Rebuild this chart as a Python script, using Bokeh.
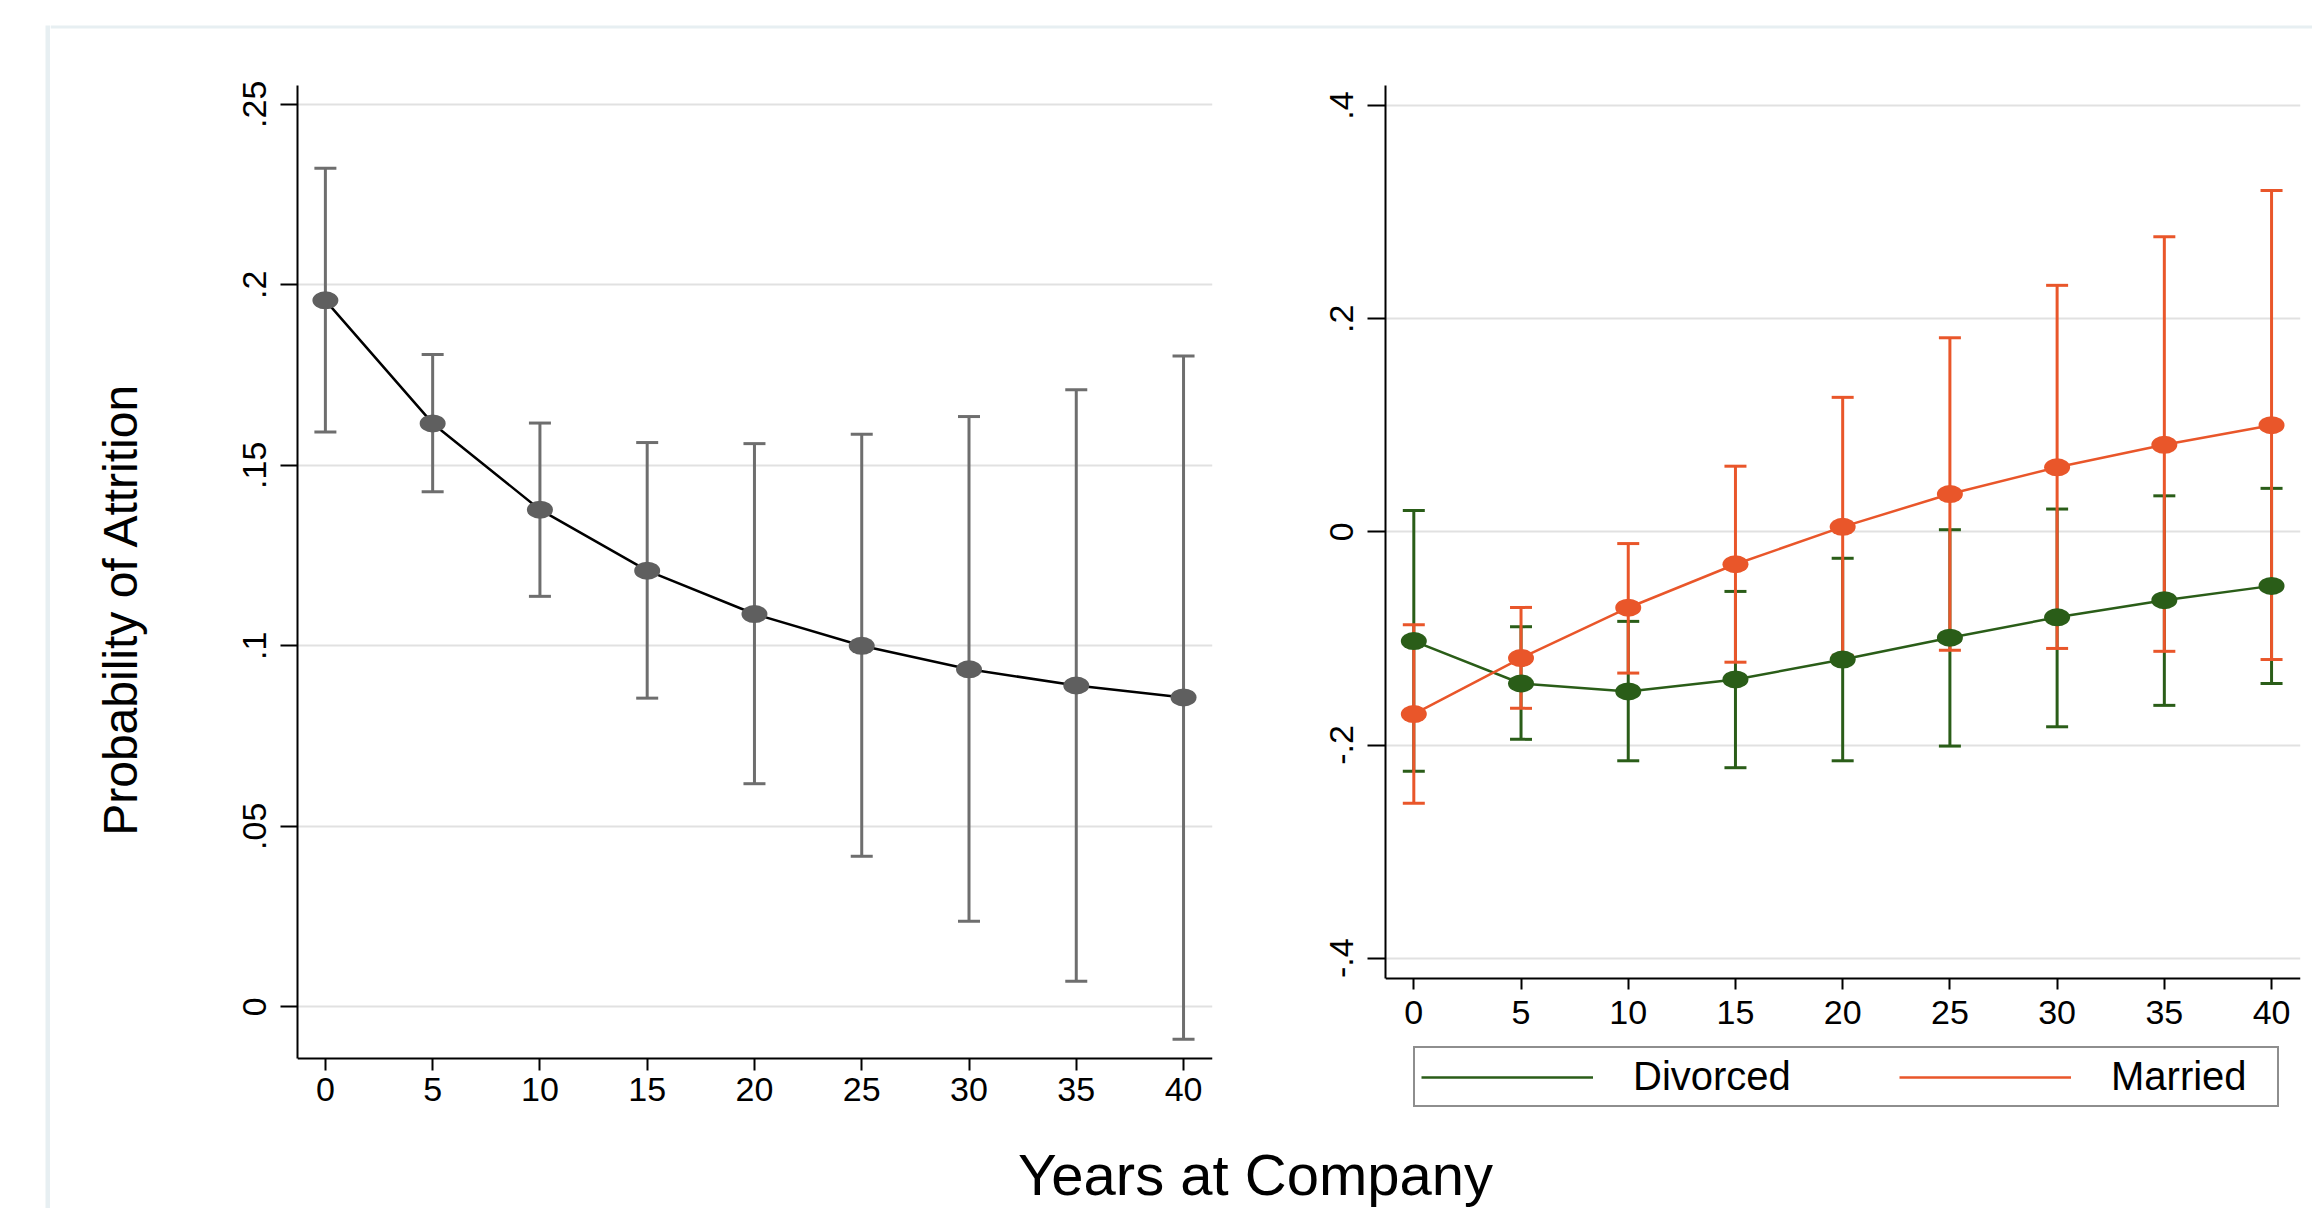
from bokeh.plotting import figure
from bokeh.models import (Range1d, FixedTicker, Whisker, TeeHead, ColumnDataSource,
                          Legend, LegendItem, BoxAnnotation, Label)
from bokeh.layouts import row, column
from bokeh.embed import file_html
from bokeh.resources import INLINE

# ---------------- data ----------------
years = [0, 5, 10, 15, 20, 25, 30, 35, 40]

overall_prob = [0.1957, 0.1616, 0.1377, 0.1208, 0.1088, 0.1000, 0.0935, 0.0890, 0.0857]
overall_lo = [0.1592, 0.1427, 0.1137, 0.0855, 0.0618, 0.0417, 0.0237, 0.0071, -0.0090]
overall_hi = [0.2323, 0.1807, 0.1617, 0.1563, 0.1560, 0.1586, 0.1635, 0.1709, 0.1803]

divorced_eff = [-0.1025, -0.1423, -0.1497, -0.1385, -0.1198, -0.0993, -0.0802, -0.0641, -0.0507]
divorced_lo = [-0.2247, -0.1947, -0.2148, -0.2213, -0.2148, -0.2010, -0.1829, -0.1628, -0.1423]
divorced_hi = [0.0200, -0.0890, -0.0840, -0.0559, -0.0248, 0.0020, 0.0214, 0.0338, 0.0408]

married_eff = [-0.1710, -0.1184, -0.0712, -0.0304, 0.0047, 0.0355, 0.0606, 0.0817, 0.1001]
married_lo = [-0.2547, -0.1656, -0.1325, -0.1223, -0.1160, -0.1111, -0.1094, -0.1121, -0.1198]
married_hi = [-0.0871, -0.0709, -0.0110, 0.0616, 0.1262, 0.1821, 0.2313, 0.2768, 0.3203]

x_ticks = [0, 5, 10, 15, 20, 25, 30, 35, 40]
x_tick_labels = ["0", "5", "10", "15", "20", "25", "30", "35", "40"]
left_y_ticks = [0, 0.05, 0.1, 0.15, 0.2, 0.25]
left_y_labels = ["0", ".05", ".1", ".15", ".2", ".25"]
right_y_ticks = [-0.4, -0.2, 0, 0.2, 0.4]
right_y_labels = ["-.4", "-.2", "0", ".2", ".4"]

series_names = ["Divorced", "Married"]
y_title = "Probability of Attrition"
x_title = "Years at Company"

# axis extents of the two panels (data units)
left_x_span = (-1.3, 41.35)
right_x_span = (-1.32, 41.35)
left_y_span = (-0.0144, 0.2552)
right_y_span = (-0.4188, 0.4188)

# ---------------- styles ----------------
FONT = "Liberation Sans"
FRAME = "#e7eff2"
GRID = "#e1e1e1"
GRAY_PT = "#5f5f5f"
GRAY_BAR = "#6e6e6e"
GREEN = "#2a5d18"
ORANGE = "#e9562a"
TICK_PX = "34px"

STRIP_W = 50
TOP_H = 32
MAIN_H = 1108
BOT_H = 1208 - TOP_H - MAIN_H
FRAME_TOP = 85 - TOP_H          # border above the panels
FRAME_BOTTOM_PAD = 8            # frames reach almost to the bottom of the row
FRAME_PX = MAIN_H - FRAME_TOP - FRAME_BOTTOM_PAD


def blank_fig(w, h, xr, yr):
    f = figure(width=w, height=h, x_range=xr, y_range=yr, output_backend="svg",
               toolbar_location=None, x_axis_location=None, y_axis_location=None,
               min_border=0, outline_line_color=None)
    f.grid.visible = False
    f.border_fill_color = "white"
    f.background_fill_color = "white"
    return f


def frame_box(p, left, right, bottom, top):
    p.add_layout(BoxAnnotation(left=left, right=right, top=top, bottom=bottom,
                               fill_color=FRAME, fill_alpha=1, line_color=None))


def extended_range(span, axis_px_from_top):
    # frame runs from top of span down past the x axis (drawn at span[0])
    lo, hi = span
    per_px = (hi - lo) / axis_px_from_top
    return Range1d(hi - per_px * FRAME_PX, hi)


def style_axes(p, yspan):
    for ax in p.axis:
        ax.axis_line_color = "black"
        ax.axis_line_width = 2
        ax.major_tick_line_color = "black"
        ax.major_tick_line_width = 2
        ax.minor_tick_line_color = None
        ax.major_tick_in = 0
        ax.major_label_text_font = FONT
        ax.major_label_text_font_size = TICK_PX
        ax.major_label_text_color = "black"
    p.xaxis.ticker = FixedTicker(ticks=x_ticks)
    p.xaxis.major_label_overrides = {t: l for t, l in zip(x_ticks, x_tick_labels)}
    p.xaxis.fixed_location = yspan[0]
    p.yaxis.bounds = yspan
    p.yaxis.major_label_orientation = "vertical"
    p.xgrid.visible = False
    p.ygrid.grid_line_color = GRID
    p.ygrid.grid_line_width = 2
    p.outline_line_color = None
    p.border_fill_color = "white"
    p.background_fill_color = "white"


def add_ci(p, lo, hi, color):
    src = ColumnDataSource(dict(x=years, lo=lo, hi=hi))
    w = Whisker(base="x", lower="lo", upper="hi", source=src, dimension="height",
                line_color=color, line_width=3, level="underlay",
                lower_head=TeeHead(size=22, line_color=color, line_width=3),
                upper_head=TeeHead(size=22, line_color=color, line_width=3))
    p.add_layout(w)


# ---------------- frame decoration ----------------
strip = blank_fig(STRIP_W, 1208, Range1d(0, STRIP_W), Range1d(0, 1208))
frame_box(strip, 45, 50, 0, 1208 - 25)
top = blank_fig(2312 - STRIP_W, TOP_H, Range1d(STRIP_W, 2312), Range1d(0, TOP_H))
frame_box(top, STRIP_W, 2312, TOP_H - 28, TOP_H - 25)

# ---------------- left panel ----------------
p1 = figure(width=1260 - STRIP_W, height=MAIN_H, x_range=Range1d(*left_x_span),
            y_range=extended_range(left_y_span, 1058.3 - 85), output_backend="svg",
            toolbar_location=None, min_border_left=297 - STRIP_W, min_border_right=48,
            min_border_top=FRAME_TOP, min_border_bottom=FRAME_BOTTOM_PAD)
style_axes(p1, left_y_span)
p1.yaxis.ticker = FixedTicker(ticks=left_y_ticks)
p1.yaxis.major_label_overrides = {t: l for t, l in zip(left_y_ticks, left_y_labels)}
p1.xaxis.major_tick_out = 12
p1.xaxis.major_label_standoff = 7
p1.yaxis.major_tick_out = 17
p1.yaxis.major_label_standoff = 14
p1.yaxis.axis_label = y_title
p1.yaxis.axis_label_text_font = FONT
p1.yaxis.axis_label_text_font_size = "48px"
p1.yaxis.axis_label_text_font_style = "normal"
p1.yaxis.axis_label_text_color = "black"
p1.yaxis.axis_label_standoff = 94

add_ci(p1, overall_lo, overall_hi, GRAY_BAR)
src1 = ColumnDataSource(dict(x=years, y=overall_prob))
p1.line("x", "y", source=src1, line_color="black", line_width=2.5)
p1.ellipse("x", "y", source=src1, width=26, height=18, width_units="screen",
           height_units="screen", fill_color=GRAY_PT, line_color=None)

# ---------------- right panel ----------------
p2 = figure(width=1052, height=MAIN_H, x_range=Range1d(*right_x_span),
            y_range=extended_range(right_y_span, 977.7 - 85), output_backend="svg",
            toolbar_location=None, min_border_left=125, min_border_right=12,
            min_border_top=FRAME_TOP, min_border_bottom=FRAME_BOTTOM_PAD)
style_axes(p2, right_y_span)
p2.yaxis.ticker = FixedTicker(ticks=right_y_ticks)
p2.yaxis.major_label_overrides = {t: l for t, l in zip(right_y_ticks, right_y_labels)}
p2.xaxis.major_tick_out = 11
p2.xaxis.major_label_standoff = 12
p2.yaxis.major_tick_out = 18
p2.yaxis.major_label_standoff = 14

add_ci(p2, divorced_lo, divorced_hi, GREEN)
add_ci(p2, married_lo, married_hi, ORANGE)
src_d = ColumnDataSource(dict(x=years, y=divorced_eff))
src_m = ColumnDataSource(dict(x=years, y=married_eff))
l_d = p2.line("x", "y", source=src_d, line_color=GREEN, line_width=2.5)
p2.ellipse("x", "y", source=src_d, width=26, height=18, width_units="screen",
           height_units="screen", fill_color=GREEN, line_color=None)
l_m = p2.line("x", "y", source=src_m, line_color=ORANGE, line_width=2.5)
p2.ellipse("x", "y", source=src_m, width=26, height=18, width_units="screen",
           height_units="screen", fill_color=ORANGE, line_color=None)

legend = Legend(items=[LegendItem(label=series_names[0], renderers=[l_d]),
                       LegendItem(label=series_names[1], renderers=[l_m])],
                orientation="horizontal", location=(28, 1132 - 1107),
                glyph_width=172, glyph_height=20, label_standoff=40,
                label_width=160, label_height=20, spacing=106, padding=6, margin=0,
                border_line_color="#1e1e1e", border_line_width=2,
                background_fill_color="white", background_fill_alpha=1,
                label_text_font=FONT, label_text_font_size="40px",
                label_text_color="black")
p2.add_layout(legend, "center")

# ---------------- bottom title ----------------
bottom = blank_fig(2312 - STRIP_W, BOT_H, Range1d(STRIP_W, 2312), Range1d(0, BOT_H))
bottom.add_layout(Label(x=1255, y=34, text=x_title, text_font=FONT,
                        text_font_size="58px", text_align="center",
                        text_baseline="alphabetic", text_color="black"))

layout = row(strip, column(top, row(p1, p2), bottom))

open("out.html", "w").write(file_html(layout, INLINE))
